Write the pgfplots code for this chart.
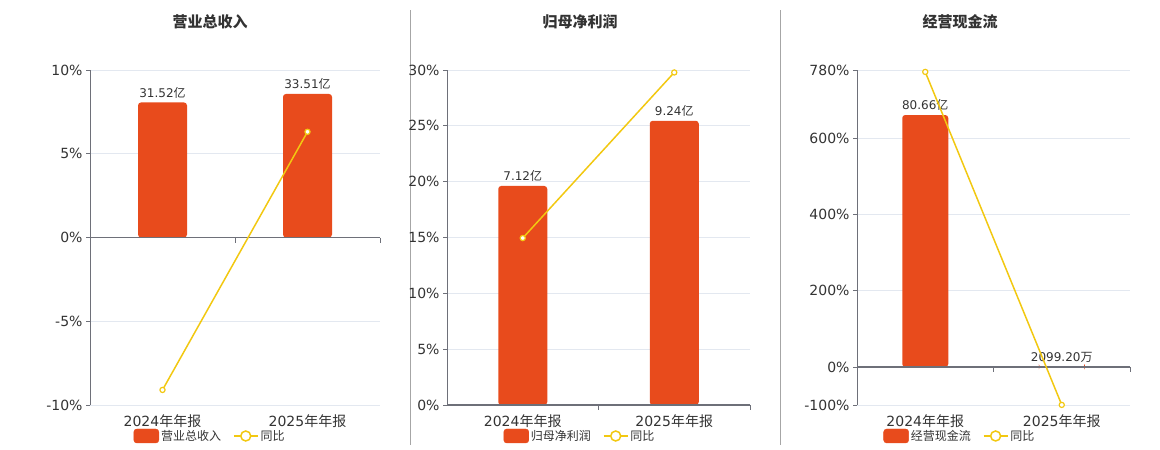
\documentclass[border=0pt]{standalone}
\usepackage{fontspec}
\setmainfont{DejaVu Sans}
\newfontfamily\cjk{Noto Sans CJK SC}
\usepackage{pgfplots}
\pgfplotsset{compat=1.18}
\definecolor{barc}{HTML}{E84B1C}
\definecolor{linec}{HTML}{F2C811}
\definecolor{gridc}{HTML}{E3E8F0}
\definecolor{axc}{HTML}{6E7079}
\definecolor{txt}{HTML}{333333}
\DeclareRobustCommand\zh[1]{{\cjk #1}}
\pgfplotsset{
  base/.style={scale only axis, xmin=-0.5, xmax=1.5, anchor=north west},
  gridaxis/.style={base, axis x line*=bottom, axis y line*=left,
    x axis line style={draw=none}, y axis line style={draw=axc, line width=0.8pt},
    ymajorgrids, grid style={draw=gridc, line width=0.8pt},
    xtick={0,1}, xticklabels={2024\zh{年年报},2025\zh{年年报}},
    x tick style={draw=none}, y tick style={draw=axc, line width=0.8pt},
    tick align=outside, major tick length=4pt,
    ticklabel style={font=\fontsize{14}{16}\selectfont, text=txt},
    xticklabel style={yshift=-2pt}},
  baraxis/.style={base, hide axis, ybar, bar width=#1,
    nodes near coords, point meta=explicit symbolic,
    every node near coord/.append style={font=\fontsize{12}{14}\selectfont, text=txt, inner sep=4pt}},
  lineaxis/.style={base, hide axis, clip=false,
    legend columns=2,
    legend style={draw=none, fill=none, font=\fontsize{12}{14}\selectfont, text=txt,
      anchor=center, /tikz/every even column/.append style={column sep=10pt}}},
  barsty/.style={fill=barc, draw=none, rounded corners=3pt},
  linesty/.style={linec, line width=1.5pt, mark=*, mark size=2.6pt,
    mark options={fill=white, draw=linec, line width=1.2pt},
    legend image code/.code={\draw[linec, line width=1.5pt] (0pt,0pt) -- (24pt,0pt);
      \draw[linec, fill=white, line width=1.5pt] (12pt,0pt) circle (5pt);}},
  barlegend/.style={legend image code/.code={\fill[barc, rounded corners=3pt] (0pt,-7pt) rectangle (25pt,7pt);}},
}
\newcommand{\zeroline}{%
  \draw[axc, line width=1.8pt] (axis cs:-0.5,0) -- (axis cs:1.5,0);
  \draw[axc, line width=0.8pt] (axis cs:0.5,0) -- ([yshift=-5pt]axis cs:0.5,0);
  \draw[axc, line width=0.8pt] (axis cs:1.5,0) -- ([yshift=-5pt]axis cs:1.5,0);}
\begin{document}
\begin{tikzpicture}
\useasboundingbox (0,0) rectangle (1160pt,-450pt);
% separators
\draw[color=black!35, line width=0.8pt] (410pt,-10pt) -- (410pt,-445pt);
\draw[color=black!35, line width=0.8pt] (780pt,-10pt) -- (780pt,-445pt);
% titles
\node[text=txt] at (210pt,-22pt) {\cjk\bfseries\fontsize{15}{18}\selectfont 营业总收入};
\node[text=txt] at (580pt,-22pt) {\cjk\bfseries\fontsize{15}{18}\selectfont 归母净利润};
\node[text=txt] at (960pt,-22pt) {\cjk\bfseries\fontsize{15}{18}\selectfont 经营现金流};

% ===== Panel 1 =====
\begin{axis}[gridaxis, at={(90pt,-70pt)}, width=290pt, height=335pt,
  ymin=-10, ymax=10, ytick={-10,-5,0,5,10}, yticklabels={-10\%,-5\%,0\%,5\%,10\%}]
\end{axis}
\begin{axis}[baraxis=49pt, at={(90pt,-70pt)}, width=290pt, height=335pt, ymin=-39.1, ymax=39.1]
\addplot[barsty] coordinates {(0,31.52) [31.52\zh{亿}] (1,33.51) [33.51\zh{亿}]};
\end{axis}
\begin{axis}[lineaxis, at={(90pt,-70pt)}, width=290pt, height=335pt, ymin=-10, ymax=10,
  legend style={at={(0.414,-0.0925)}}]
\zeroline
\addlegendimage{barlegend}
\addlegendentry{\zh{营业总收入}}
\addplot[linesty] coordinates {(0,-9.1) (1,6.31)};
\addlegendentry{\zh{同比}}
\end{axis}

% ===== Panel 2 =====
\begin{axis}[gridaxis, at={(447pt,-70pt)}, width=303pt, height=335pt,
  ymin=0, ymax=30, ytick={0,5,10,15,20,25,30}, yticklabels={0\%,5\%,10\%,15\%,20\%,25\%,30\%}]
\end{axis}
\begin{axis}[baraxis=49pt, at={(447pt,-70pt)}, width=303pt, height=335pt, ymin=0, ymax=10.89]
\addplot[barsty] coordinates {(0,7.12) [7.12\zh{亿}] (1,9.24) [9.24\zh{亿}]};
\end{axis}
\begin{axis}[lineaxis, at={(447pt,-70pt)}, width=303pt, height=335pt, ymin=0, ymax=30,
  legend style={at={(0.439,-0.0925)}}]
\zeroline
\addlegendimage{barlegend}
\addlegendentry{\zh{归母净利润}}
\addplot[linesty] coordinates {(0,14.95) (1,29.78)};
\addlegendentry{\zh{同比}}
\end{axis}

% ===== Panel 3 =====
\begin{axis}[gridaxis, at={(857pt,-70pt)}, width=273pt, height=335pt,
  ymin=-100, ymax=780, ytick={-100,0,200,400,600,780}, yticklabels={-100\%,0\%,200\%,400\%,600\%,780\%}]
\end{axis}
\begin{axis}[baraxis=46pt, at={(857pt,-70pt)}, width=273pt, height=335pt, ymin=-12.16, ymax=95.07]
\addplot[barsty] coordinates {(0,80.66) [80.66\zh{亿}] (1,0.21) [2099.20\zh{万}]};
\end{axis}
\begin{axis}[lineaxis, at={(857pt,-70pt)}, width=273pt, height=335pt, ymin=-100, ymax=780,
  legend style={at={(0.377,-0.0925)}}]
\zeroline
\addlegendimage{barlegend}
\addlegendentry{\zh{经营现金流}}
\addplot[linesty] coordinates {(0,775) (1,-99.74)};
\addlegendentry{\zh{同比}}
\end{axis}
\end{tikzpicture}
\end{document}
